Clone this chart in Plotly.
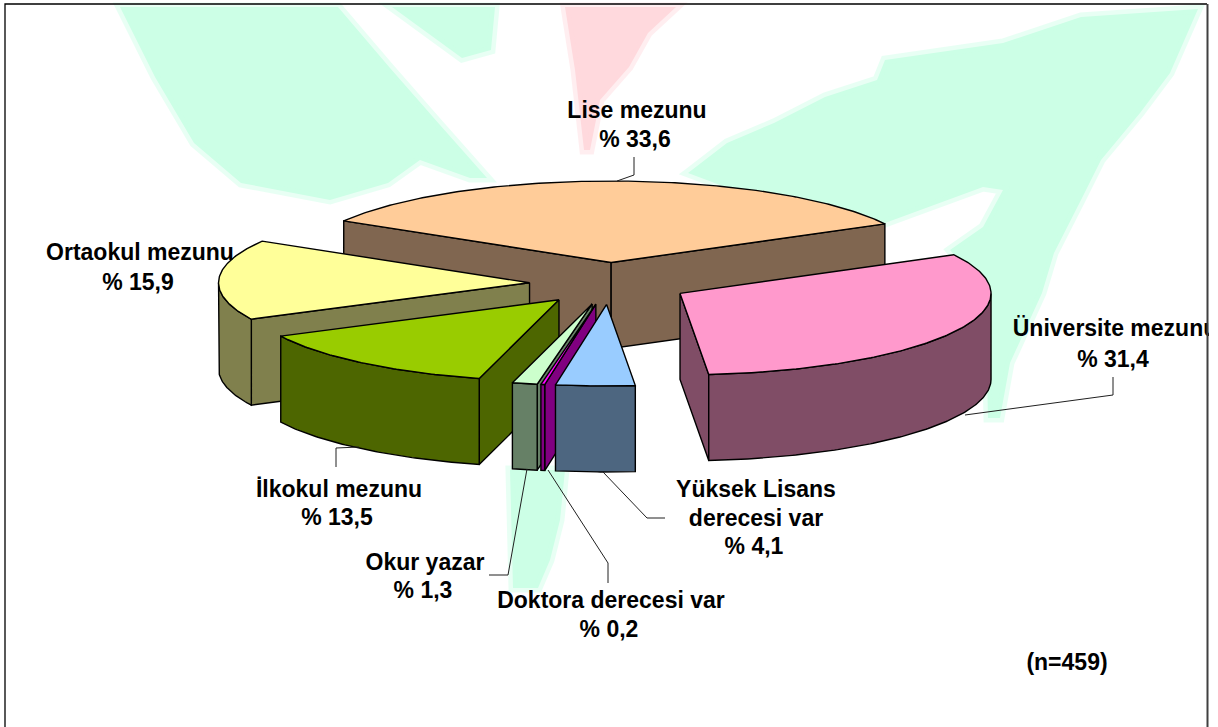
import math
import plotly.graph_objects as go

# ---- data ----
names = ["Lise mezunu", "Üniversite mezunu", "Yüksek Lisans derecesi var", "Doktora derecesi var",
         "Okur yazar", "İlkokul mezunu", "Ortaokul mezunu"]
values = [33.6, 31.4, 4.1, 0.2, 1.3, 13.5, 15.9]
pct_labels = ["% 33,6", "% 31,4", "% 4,1", "% 0,2", "% 1,3", "% 13,5", "% 15,9"]
top_colors = ["#FFCC99", "#FF99CC", "#99CCFF", "#FF00FF", "#CCFFCC", "#99CC00", "#FFFF99"]
side_colors = ["#806650", "#804D66", "#4D6680", "#800080", "#668066", "#4D6600", "#80804D"]
draw_order = [0, 6, 1, 5, 4, 3, 2]
sample_note = "(n=459)"

# ---- projection of the 3-D pie ----
W, H = 1218, 727
CLIP_X = 1209
CX, CY = 609.5, 283.5
RX, RY = 311, 81.5
DEPTH, EXPLODE = 86, 80
START = -59.3

def arc(cx, cy, a, b, dy=0):
    n = max(2, int(abs(b - a) * 1.5) + 2)
    pts = [a + (b - a) * i / (n - 1) for i in range(n)]
    return ([cx + RX * math.sin(math.radians(t)) for t in pts],
            [cy + dy - RY * math.cos(math.radians(t)) for t in pts])

def face(fig, xs, ys, color):
    fig.add_trace(go.Scatter(x=xs, y=ys, mode="lines", fill="toself", fillcolor=color,
                             line=dict(color="#000000", width=1.4), hoverinfo="skip", showlegend=False))

fig = go.Figure()
total = sum(values)
angles = [START]
for v in values:
    angles.append(angles[-1] + v / total * 360)

for i in draw_order:
    t1, t2 = angles[i], angles[i + 1]
    mid = math.radians((t1 + t2) / 2)
    ax = CX + EXPLODE * math.sin(mid)
    ay = CY - EXPLODE * RY / RX * math.cos(mid)
    for t, vis in ((t1, math.sin(math.radians(t1)) < 0), (t2, math.sin(math.radians(t2)) > 0)):
        if vis:
            px = ax + RX * math.sin(math.radians(t))
            py = ay - RY * math.cos(math.radians(t))
            face(fig, [ax, px, px, ax, ax], [ay, py, py + DEPTH, ay + DEPTH, ay], side_colors[i])
    a, b = max(t1, 90), min(t2, 270)
    if a < b:
        x1, y1 = arc(ax, ay, a, b)
        x2, y2 = arc(ax, ay, b, a, DEPTH)
        face(fig, x1 + x2 + x1[:1], y1 + y2 + y1[:1], side_colors[i])
    x1, y1 = arc(ax, ay, t1, t2)
    face(fig, [ax] + x1 + [ax], [ay] + y1 + [ay], top_colors[i])

# ---- labels (text trace so the long label is clipped at the frame) ----
LABEL_SPOTS = {
    0: (637, [112, 141]),
    1: (1115, [330, 361]),
    2: (756, [491, 520, 548]),
    3: (611, [602, 631]),
    4: (425, [564, 592]),
    5: (339, [491, 519]),
    6: (140, [254, 284]),
}
tx, ty, tt = [], [], []
for i, (cx, ys) in LABEL_SPOTS.items():
    if len(ys) == 3:
        lines = ["Yüksek Lisans", "derecesi var", pct_labels[i]]
    else:
        lines = [names[i], pct_labels[i]]
    for s, y in zip(lines, ys):
        tx.append(cx - 2 if s.startswith("%") else cx); ty.append(y); tt.append("<b>%s</b>" % s)
tx.append(1067); ty.append(664); tt.append("<b>%s</b>" % sample_note)
fig.add_trace(go.Scatter(x=tx, y=ty, text=tt, mode="text", textposition="middle center",
                         textfont=dict(family="Liberation Sans", size=23, color="#000000"),
                         cliponaxis=True, hoverinfo="skip", showlegend=False))

# ---- decoration: watermark, frame, leader lines ----
GREEN, PINK = "#CCFFE6", "#FFD9DD"
GREEN_SOFT, PINK_SOFT = "rgba(204,255,230,0.45)", "rgba(255,217,221,0.45)"
watermark = [
    (GREEN, GREEN_SOFT, "M120,7 L155,77 L194,143 L241,183 L330,200 L388,183 L420,160 L470,178 L487,178 L440,125 L390,68 L338,7 Z"),
    (GREEN, GREEN_SOFT, "M392,7 L495,7 L491,50 L462,58 Z"),
    (GREEN, GREEN_SOFT, "M688,173 L727,143 L774,123 L825,97 L877,80 L885,60 L1003,43 L1081,17 L1198,9 L1170,73 L1140,113 L1101,160 "
                        "L1081,200 L1054,253 L1042,293 L1010,363 L1000,418 L988,418 L985,290 L950,250 L983,227 L1003,190 L983,187 L885,223 L800,215 Z"),
    (PINK, PINK_SOFT, "M565,7 L676,7 L648,33 L629,67 L600,100 L590,150 L584,150 L575,70 Z"),
    (GREEN, GREEN_SOFT, "M510,470 L565,470 L560,520 L550,560 L538,588 L513,588 Z"),
]
shapes = [dict(type="path", path=p, fillcolor=c, line=dict(width=9, color=s), layer="below") for c, s, p in watermark]
leaders = [
    "M634,157 L634,175 L617,181",
    "M1113,377 L1113,395 L965,415",
    "M603,472 L647,518 L665,518",
    "M548,470 L608,563 L608,583",
    "M527,469 L508,575 L489,575",
    "M359,447 L336,448 L336,467",
]
shapes += [dict(type="path", path=p, line=dict(color="#202020", width=1), layer="above") for p in leaders]
shapes.append(dict(type="path", path="M5,727 L5,4 L1207,4", line=dict(color="#000000", width=1.3), layer="above"))
shapes.append(dict(type="path", path="M1207.5,4 L1207.5,727", line=dict(color="#404040", width=2), layer="above"))

fig.update_layout(
    width=W, height=H, margin=dict(l=0, r=W - CLIP_X, t=0, b=0),
    paper_bgcolor="#FFFFFF", plot_bgcolor="#FFFFFF", showlegend=False, shapes=shapes,
    xaxis=dict(range=[0, CLIP_X], visible=False, fixedrange=True),
    yaxis=dict(range=[H, 0], visible=False, fixedrange=True),
)
fig.write_html("out.html", config=dict(displayModeBar=False),
               post_script="document.body.style.margin='0';")
